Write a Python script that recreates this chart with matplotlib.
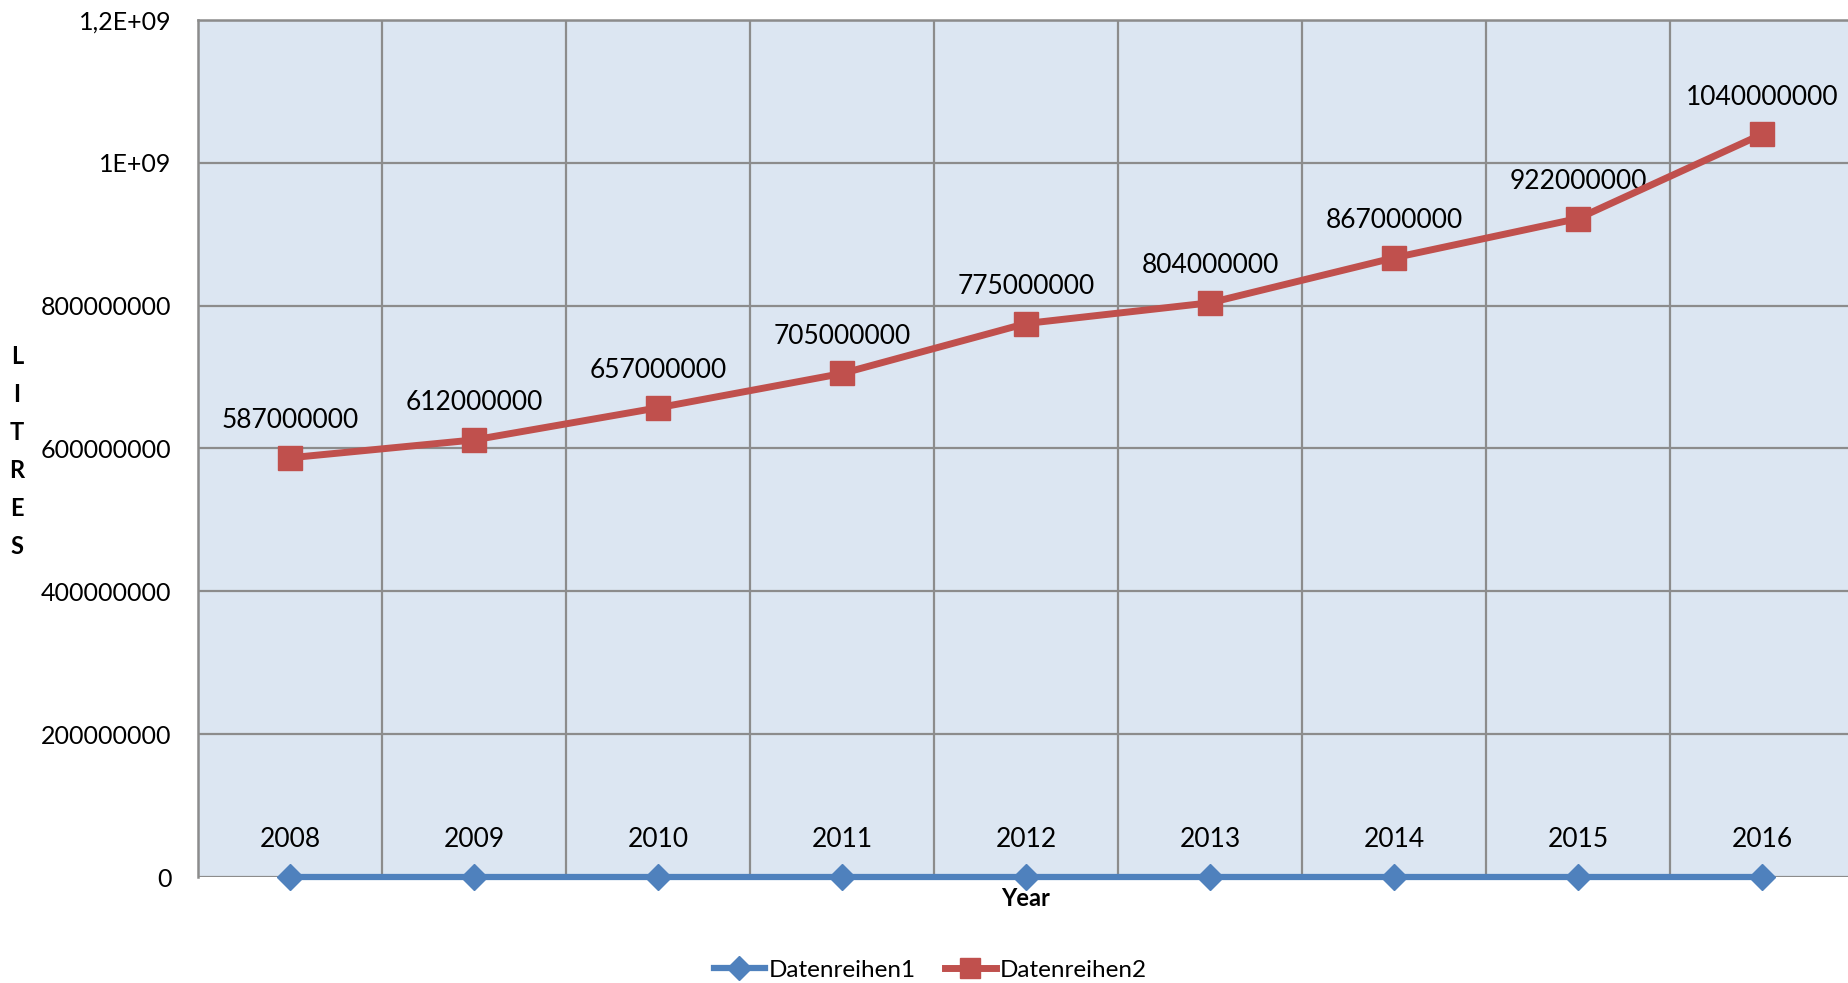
import matplotlib.pyplot as plt
from matplotlib.lines import Line2D

years = ['2008', '2009', '2010', '2011', '2012', '2013', '2014', '2015', '2016']
series1 = [0, 0, 0, 0, 0, 0, 0, 0, 0]
series2 = [587000000, 612000000, 657000000, 705000000, 775000000,
           804000000, 867000000, 922000000, 1040000000]
yticks = [0, 200000000, 400000000, 600000000, 800000000, 1000000000, 1200000000]
ytick_labels = ['0', '200000000', '400000000', '600000000', '800000000', '1E+09', '1,2E+09']

blue = '#4F81BD'
red = '#C0504D'
grid_col = '#8C8C8C'

plt.rcParams['font.family'] = ['Lato', 'DejaVu Sans']

fig = plt.figure(figsize=(18.49, 9.83), dpi=100)
ax = fig.add_axes([0.1071, 0.1078, 0.8956, 0.8719])
ax.set_facecolor('#DCE6F2')

x = list(range(len(years)))
ax.plot(x, series1, color=blue, lw=4.5, marker='D', ms=13, zorder=4, clip_on=False)
ax.plot(x, series2, color=red, lw=5, marker='s', ms=17, zorder=5)

for xi, v in zip(x, series2):
    ax.annotate(str(v), (xi, v), xytext=(0, 37), textcoords='offset pixels',
                ha='center', va='center', fontsize=19)
for xi, y in zip(x, years):
    ax.annotate(y, (xi, 0), xytext=(0, 38), textcoords='offset pixels',
                ha='center', va='center', fontsize=19)

ax.set_xlim(-0.5, len(years) - 0.5)
ax.set_ylim(0, 1200000000)
ax.set_xticks([i + 0.5 for i in range(len(years) - 1)])
ax.set_xticklabels([])
ax.set_yticks(yticks)
ax.set_yticklabels(ytick_labels, fontsize=18)
ax.tick_params(length=0, pad=19)
ax.grid(True, color=grid_col, lw=1.6)
ax.set_axisbelow(True)
for s in ['right', 'bottom']:
    ax.spines[s].set_visible(False)
for s in ['left', 'top']:
    ax.spines[s].set_color(grid_col)
    ax.spines[s].set_linewidth(1.8)
ax.axhline(0, color=grid_col, lw=1.8, zorder=1)

fig.text(1026 / 1849, 1 - 898 / 983, 'Year', ha='center', va='center',
         fontsize=17, fontweight='bold')
for i, ch in enumerate('LITRES'):
    fig.text(17 / 1849, 1 - (357 + i * 38) / 983, ch, ha='center', va='center',
             fontsize=17, fontweight='bold')

handles = [Line2D([], [], color=blue, lw=4.5, marker='D', ms=12),
           Line2D([], [], color=red, lw=5, marker='s', ms=15)]
fig.legend(handles, ['Datenreihen1', 'Datenreihen2'], loc='center',
           bbox_to_anchor=(930 / 1849, 1 - 970 / 983), ncol=2, frameon=False,
           fontsize=17.5, handlelength=2.1, handletextpad=0.15, columnspacing=1.2)

fig.savefig('out.png', dpi=100)
